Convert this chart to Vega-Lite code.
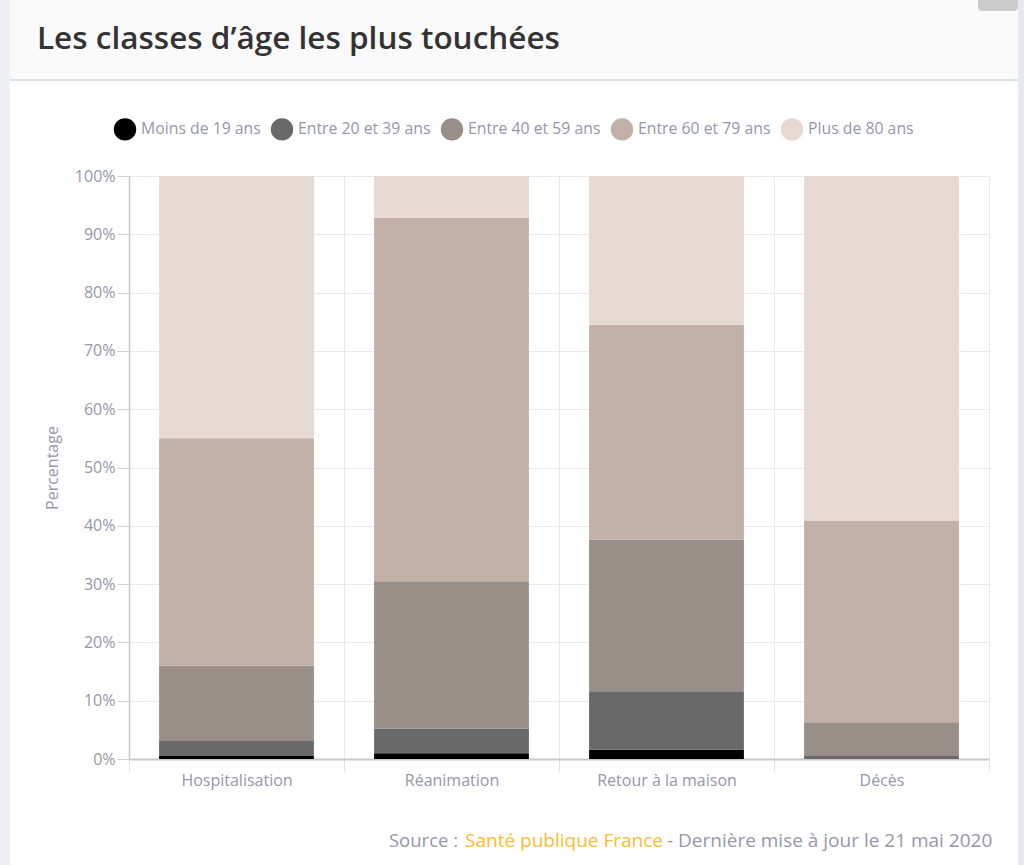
{
  "$schema": "https://vega.github.io/schema/vega-lite/v6.json",
  "width": 860,
  "height": 583,
  "autosize": "none",
  "padding": {"left": 129, "top": 176, "right": 35, "bottom": 106},
  "background": "#ffffff",
  "config": {
    "font": "Open Sans",
    "view": {"stroke": null}
  },
  "layer": [
    {
      "data": {"values": [{"zone": "page"}]},
      "mark": {"type": "rect", "color": "#eef0f5", "clip": false},
      "encoding": {
        "x": {"datum": -0.15, "type": "quantitative", "scale": {"domain": [0, 1]}, "axis": null},
        "x2": {"datum": -0.1384},
        "y": {"datum": 1.3019, "type": "quantitative", "scale": {"domain": [0, 1]}, "axis": null},
        "y2": {"datum": -0.1818}
      }
    },
    {
      "data": {"values": [{"zone": "page"}]},
      "mark": {"type": "rect", "color": "#e6e7f1", "clip": false},
      "encoding": {
        "x": {"datum": 1.0337, "type": "quantitative", "scale": {"domain": [0, 1]}, "axis": null},
        "x2": {"datum": 1.0407},
        "y": {"datum": 1.3019, "type": "quantitative", "scale": {"domain": [0, 1]}, "axis": null},
        "y2": {"datum": -0.1818}
      }
    },
    {
      "data": {"values": [{"zone": "entete"}]},
      "mark": {"type": "rect", "color": "#fafafa", "clip": false},
      "encoding": {
        "x": {"datum": -0.1384, "type": "quantitative", "scale": {"domain": [0, 1]}, "axis": null},
        "x2": {"datum": 1.0337},
        "y": {"datum": 1.3019, "type": "quantitative", "scale": {"domain": [0, 1]}, "axis": null},
        "y2": {"datum": 1.1664}
      }
    },
    {
      "data": {"values": [{"zone": "filet"}]},
      "mark": {"type": "rect", "color": "#dfe0ea", "clip": false},
      "encoding": {
        "x": {"datum": -0.1384, "type": "quantitative", "scale": {"domain": [0, 1]}, "axis": null},
        "x2": {"datum": 1.0337},
        "y": {"datum": 1.1664, "type": "quantitative", "scale": {"domain": [0, 1]}, "axis": null},
        "y2": {"datum": 1.163}
      }
    },
    {
      "data": {"values": [{"zone": "onglet"}]},
      "mark": {"type": "rect", "color": "#cccccc", "clip": false, "cornerRadius": 4},
      "encoding": {
        "x": {"datum": 0.9872, "type": "quantitative", "scale": {"domain": [0, 1]}, "axis": null},
        "x2": {"datum": 1.0337},
        "y": {"datum": 1.3119, "type": "quantitative", "scale": {"domain": [0, 1]}, "axis": null},
        "y2": {"datum": 1.2829}
      }
    },
    {
      "data": {"values": [{"texte": "Les classes d’âge les plus touchées"}]},
      "mark": {"type": "text", "align": "left", "baseline": "middle", "fontSize": 31.5, "fontWeight": 600, "color": "#333333", "clip": false},
      "encoding": {
        "x": {"datum": -0.107, "type": "quantitative", "scale": {"domain": [0, 1]}, "axis": null},
        "y": {"datum": 1.2333, "type": "quantitative", "scale": {"domain": [0, 1]}, "axis": null},
        "text": {"field": "texte"}
      }
    },
    {
      "data": {"values": [{"texte": "Source :"}]},
      "mark": {"type": "text", "align": "left", "baseline": "middle", "fontSize": 18.5, "color": "#9697a8", "clip": false},
      "encoding": {
        "x": {"datum": 0.3023, "type": "quantitative", "scale": {"domain": [0, 1]}, "axis": null},
        "y": {"datum": -0.1407, "type": "quantitative", "scale": {"domain": [0, 1]}, "axis": null},
        "text": {"field": "texte"}
      }
    },
    {
      "data": {"values": [{"texte": "Santé publique France"}]},
      "mark": {"type": "text", "align": "left", "baseline": "middle", "fontSize": 19, "color": "#fdbb2f", "clip": false},
      "encoding": {
        "x": {"datum": 0.3907, "type": "quantitative", "scale": {"domain": [0, 1]}, "axis": null},
        "y": {"datum": -0.1407, "type": "quantitative", "scale": {"domain": [0, 1]}, "axis": null},
        "text": {"field": "texte"}
      }
    },
    {
      "data": {"values": [{"texte": "- Dernière mise à jour le 21 mai 2020"}]},
      "mark": {"type": "text", "align": "left", "baseline": "middle", "fontSize": 19, "color": "#9697a8", "clip": false},
      "encoding": {
        "x": {"datum": 0.6256, "type": "quantitative", "scale": {"domain": [0, 1]}, "axis": null},
        "y": {"datum": -0.1407, "type": "quantitative", "scale": {"domain": [0, 1]}, "axis": null},
        "text": {"field": "texte"}
      }
    },
    {
      "data": {
        "values": [
          {"categorie": "Hospitalisation", "classe": "Moins de 19 ans", "ordre": 1, "part": 0.5},
          {"categorie": "Hospitalisation", "classe": "Entre 20 et 39 ans", "ordre": 2, "part": 2.7},
          {"categorie": "Hospitalisation", "classe": "Entre 40 et 59 ans", "ordre": 3, "part": 12.8},
          {"categorie": "Hospitalisation", "classe": "Entre 60 et 79 ans", "ordre": 4, "part": 39},
          {"categorie": "Hospitalisation", "classe": "Plus de 80 ans", "ordre": 5, "part": 45},
          {"categorie": "Réanimation", "classe": "Moins de 19 ans", "ordre": 1, "part": 1},
          {"categorie": "Réanimation", "classe": "Entre 20 et 39 ans", "ordre": 2, "part": 4.2},
          {"categorie": "Réanimation", "classe": "Entre 40 et 59 ans", "ordre": 3, "part": 25.3},
          {"categorie": "Réanimation", "classe": "Entre 60 et 79 ans", "ordre": 4, "part": 62.3},
          {"categorie": "Réanimation", "classe": "Plus de 80 ans", "ordre": 5, "part": 7.2},
          {"categorie": "Retour à la maison", "classe": "Moins de 19 ans", "ordre": 1, "part": 1.6},
          {"categorie": "Retour à la maison", "classe": "Entre 20 et 39 ans", "ordre": 2, "part": 10},
          {"categorie": "Retour à la maison", "classe": "Entre 40 et 59 ans", "ordre": 3, "part": 26},
          {"categorie": "Retour à la maison", "classe": "Entre 60 et 79 ans", "ordre": 4, "part": 36.9},
          {"categorie": "Retour à la maison", "classe": "Plus de 80 ans", "ordre": 5, "part": 25.5},
          {"categorie": "Décès", "classe": "Moins de 19 ans", "ordre": 1, "part": 0.1},
          {"categorie": "Décès", "classe": "Entre 20 et 39 ans", "ordre": 2, "part": 0.4},
          {"categorie": "Décès", "classe": "Entre 40 et 59 ans", "ordre": 3, "part": 5.8},
          {"categorie": "Décès", "classe": "Entre 60 et 79 ans", "ordre": 4, "part": 34.6},
          {"categorie": "Décès", "classe": "Plus de 80 ans", "ordre": 5, "part": 59.1}
        ]
      },
      "mark": {"type": "bar", "width": {"band": 0.72}},
      "encoding": {
        "x": {
          "field": "categorie",
          "type": "nominal",
          "sort": null,
          "title": null,
          "scale": {"paddingInner": 0, "paddingOuter": 0},
          "axis": {
            "labelAngle": 0,
            "labelFontSize": 16,
            "labelColor": "#9697a8",
            "labelPadding": 1,
            "tickBand": "extent",
            "tickSize": 12,
            "tickColor": "#e2e2e6",
            "grid": true,
            "gridColor": "#e9e9ec",
            "domainColor": "#c8c8cc",
            "domainWidth": 2
          }
        },
        "y": {
          "field": "part",
          "type": "quantitative",
          "title": "Percentage",
          "stack": "zero",
          "scale": {"domain": [0, 100], "nice": false},
          "axis": {
            "values": [0, 10, 20, 30, 40, 50, 60, 70, 80, 90, 100],
            "labelExpr": "datum.value + '%'",
            "grid": true,
            "labelFontSize": 16,
            "labelColor": "#9697a8",
            "labelPadding": 2,
            "tickSize": 12,
            "tickColor": "#d0d0d4",
            "gridColor": "#e9e9ec",
            "domainColor": "#c8c8cc",
            "domainWidth": 1.5,
            "titleColor": "#9697a8",
            "titleFontSize": 16,
            "titleFontWeight": 400,
            "titlePadding": 14
          }
        },
        "color": {
          "field": "classe",
          "type": "nominal",
          "sort": null,
          "scale": {
            "domain": ["Moins de 19 ans", "Entre 20 et 39 ans", "Entre 40 et 59 ans", "Entre 60 et 79 ans", "Plus de 80 ans"],
            "range": ["#000000", "#696969", "#998e88", "#c2b0a7", "#e6d9d1"]
          },
          "legend": {
            "title": null,
            "orient": "none",
            "direction": "horizontal",
            "legendX": -16,
            "legendY": -59,
            "symbolType": "circle",
            "symbolSize": 500,
            "labelFontSize": 15.8,
            "labelColor": "#9697a8",
            "labelOffset": 4,
            "columnPadding": 9
          }
        },
        "order": {"field": "ordre", "type": "quantitative"}
      }
    }
  ],
  "resolve": {
    "scale": {"x": "independent", "y": "independent"},
    "axis": {"x": "independent", "y": "independent"}
  }
}
